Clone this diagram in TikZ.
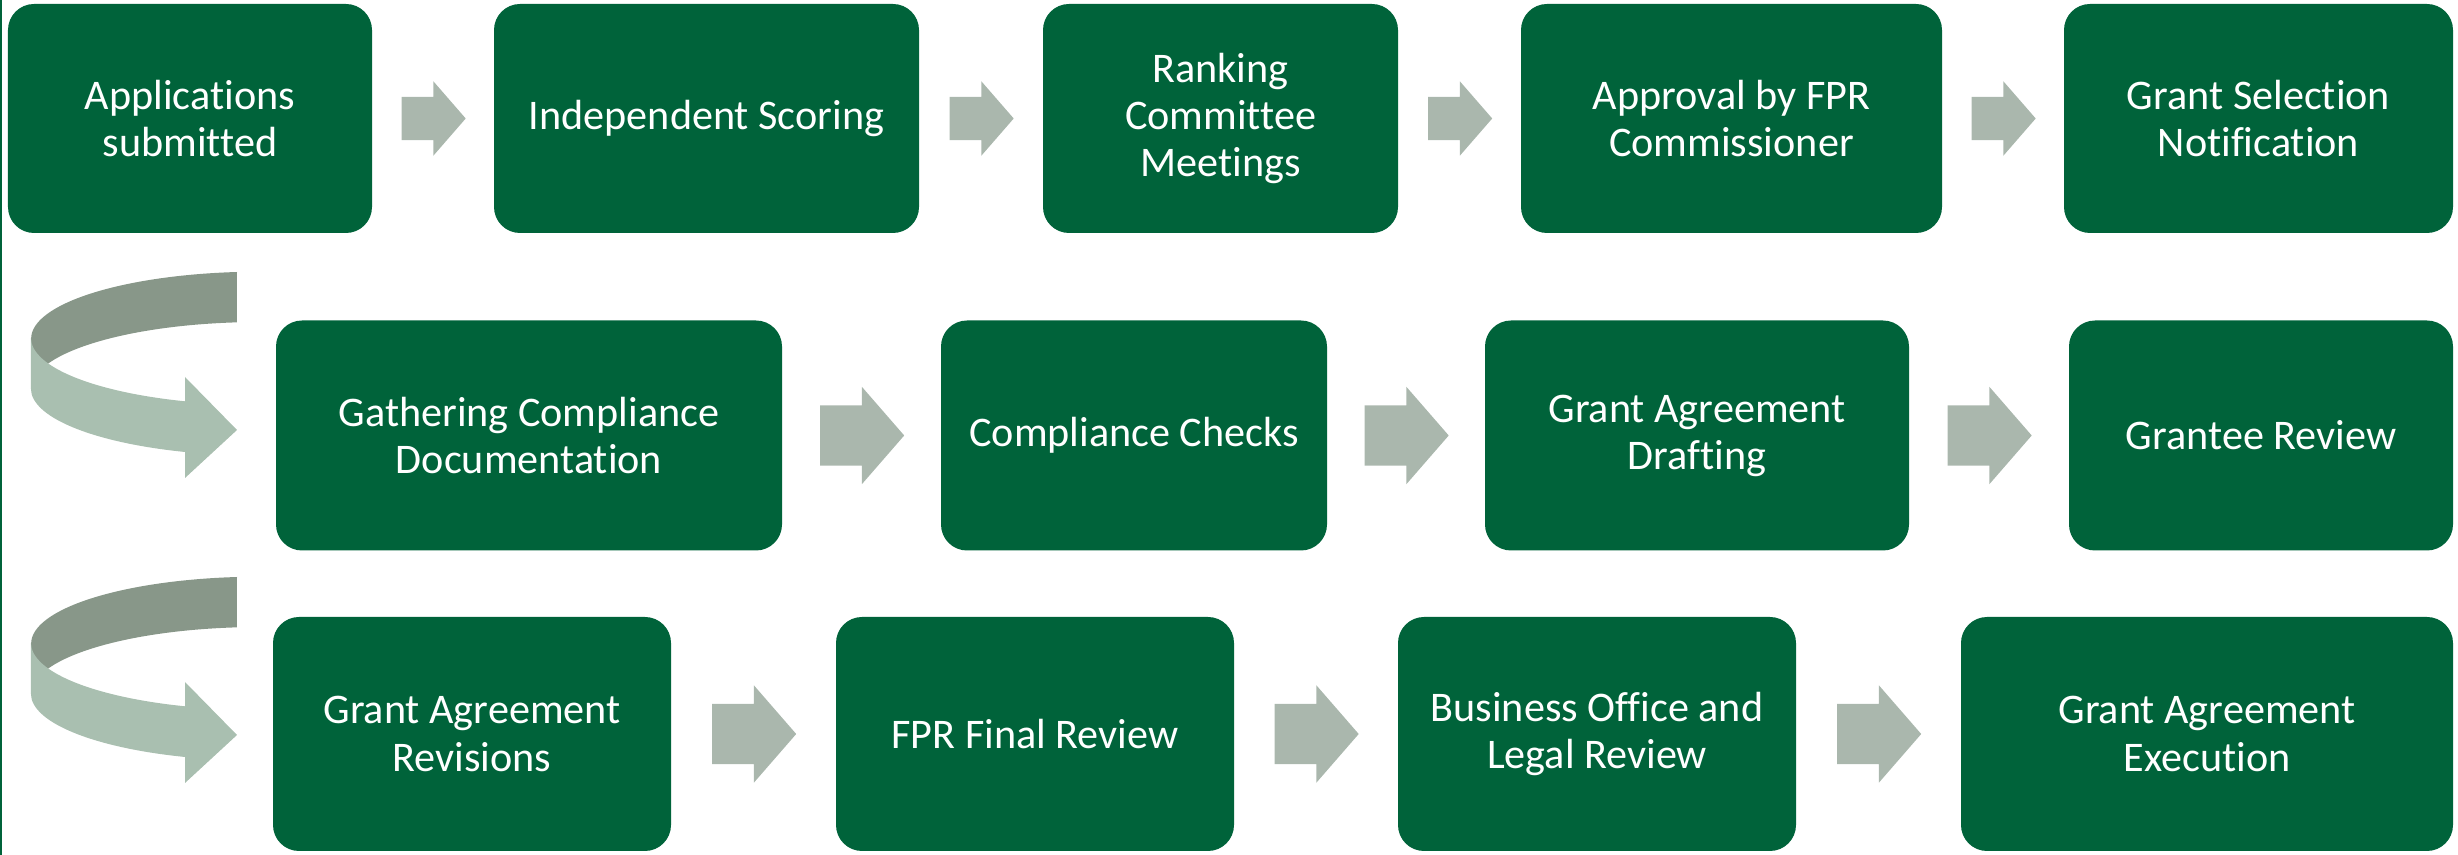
\documentclass[tikz,border=0pt]{standalone}
\usepackage{fontspec}
\setmainfont{Carlito}[Ligatures=NoCommon]
\usetikzlibrary{shapes.arrows,calc}
\definecolor{stagegreen}{RGB}{0,99,58}
\definecolor{flowgray}{RGB}{170,183,173}
\definecolor{ribbondark}{RGB}{136,151,137}
\definecolor{ribbonlight}{RGB}{169,191,176}
\tikzset{
  stage/.style ={rectangle, rounded corners=0.26cm, fill=stagegreen, text=white,
                 align=center, inner sep=2pt, font=\fontsize{12}{13.4}\selectfont},
  flow/.style  ={single arrow, fill=flowgray, inner xsep=0pt, inner ysep=0.295cm,
                 single arrow tip angle=98, single arrow head extend=0.185cm,
                 minimum height=0.84cm, anchor=tail, xshift=-0.42cm},
  flows/.style ={flow, inner ysep=0.21cm, single arrow head extend=0.155cm,
                 minimum height=0.64cm, xshift=0.1cm}
}

\begin{document}
\begin{tikzpicture}
\useasboundingbox (0,0) rectangle (24.58,-8.55);
\draw[stagegreen, line width=0.6pt] (0.01,0) -- (0.01,-8.55);
% Stages, row by row
\foreach \n/\x/\w/\txt in {1/1.90/3.64/{Applications\\submitted}, 2/7.065/4.25/{Independent Scoring},
    3/12.205/3.55/{Ranking\\Committee\\Meetings}, 4/17.315/4.21/{Approval by FPR\\Commissioner},
    5/22.585/3.89/{Grant Selection\\Notification}}
  \node[stage, minimum width=\w cm, minimum height=2.29cm] (s\n) at (\x,-1.185) {\txt};
\foreach \n/\x/\w/\txt in {6/5.29/5.06/{Gathering Compliance\\Documentation}, 7/11.34/3.86/{Compliance Checks},
    8/16.97/4.24/{Grant Agreement\\Drafting}, 9/22.61/3.84/{Grantee Review}}
  \node[stage, minimum width=\w cm, minimum height=2.30cm] (s\n) at (\x,-4.355) {\txt};
\foreach \n/\x/\w/\txt in {10/4.72/3.98/{Grant Agreement\\Revisions}, 11/10.35/3.98/{FPR Final Review},
    12/15.97/3.98/{Business Office and\\Legal Review}, 13/22.07/4.92/{Grant Agreement\\Execution}}
  \node[stage, minimum width=\w cm, minimum height=2.34cm] (s\n) at (\x,-7.34) {\txt};
% Block arrows between stages
\foreach \a/\b in {s1/s2,s2/s3,s3/s4,s4/s5}
  \node[flows] (f\a) at ($(\a.east)!0.5!(\b.west)$) {};
\foreach \a/\b in {s6/s7,s7/s8,s8/s9,s10/s11,s11/s12,s12/s13}
  \node[flow] (f\a) at ($(\a.east)!0.5!(\b.west)$) {};
% U-turn ribbons to the next row
\foreach \dy in {0,-3.05}{
  \begin{scope}[yshift=\dy cm]
    \fill[ribbondark] (2.37,-2.72) arc[start angle=95.8, end angle=180, x radius=2.29, y radius=0.67]
      -- (0.31,-3.89) arc[start angle=180, end angle=95.8, x radius=2.29, y radius=0.67] -- cycle;
    \fill[ribbonlight] (0.31,-3.38) arc[start angle=180, end angle=250.9, x radius=2.29, y radius=0.67]
      -- (1.85,-3.77) -- (2.37,-4.30) -- (1.85,-4.78) -- (1.85,-4.52)
      arc[start angle=250.9, end angle=180, x radius=2.29, y radius=0.67] -- cycle;
  \end{scope}
}
\end{tikzpicture}
\end{document}
